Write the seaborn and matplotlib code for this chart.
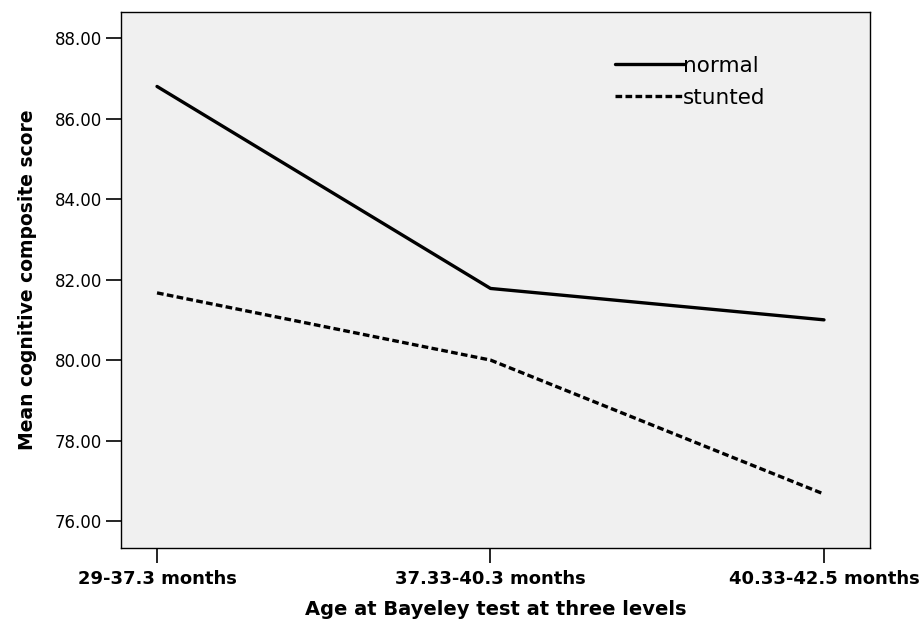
import matplotlib
matplotlib.use("Agg")
import matplotlib.pyplot as plt
import seaborn as sns
import pandas as pd

# Mean cognitive composite score by age group and growth status
age_levels = ["29-37.3 months", "37.33-40.3 months", "40.33-42.5 months"]
normal_scores = [86.80, 81.78, 81.00]
stunted_scores = [81.67, 80.00, 76.67]
y_ticks = [76, 78, 80, 82, 84, 86, 88]

df = pd.DataFrame({
    "age": age_levels * 2,
    "score": normal_scores + stunted_scores,
    "group": ["normal"] * 3 + ["stunted"] * 3,
})

sns.set_style("white")
plt.rcParams["font.family"] = ["DejaVu Sans"]
plt.rcParams["text.color"] = "black"
plt.rcParams["axes.labelcolor"] = "black"
plt.rcParams["xtick.color"] = "black"
plt.rcParams["ytick.color"] = "black"

fig = plt.figure(figsize=(9.21, 6.21), dpi=100)
ax = fig.add_axes([121 / 921, 1 - 548 / 621, (870 - 121) / 921, (548 - 12) / 621])
ax.set_facecolor("#F0F0F0")

sns.lineplot(data=df, x="age", y="score", style="group",
             hue="group", palette={"normal": "black", "stunted": "black"},
             dashes={"normal": "", "stunted": (2.0, 1.0)},
             linewidth=2.4, ax=ax, legend=False, sort=False)

ax.set_xlim(-0.108, 2.138)
ax.set_ylim(75.33, 88.65)
ax.set_yticks(y_ticks)
ax.set_yticklabels([f"{v:.2f}" for v in y_ticks], fontsize=12)
ax.set_xticks(range(len(age_levels)))
ax.set_xticklabels(age_levels, fontsize=13, fontweight="bold")

for s in ax.spines.values():
    s.set_color("black")
    s.set_linewidth(1.0)
ax.tick_params(axis="both", direction="out", length=10.5, width=1.2,
               left=True, bottom=True)
ax.tick_params(axis="y", pad=3)
ax.tick_params(axis="x", pad=5)

ax.set_xlabel("Age at Bayeley test at three levels", fontsize=14,
              fontweight="bold", labelpad=9)
ax.set_ylabel("Mean cognitive composite score", fontsize=13.5,
              fontweight="bold", labelpad=13)

# legend without frame, lines touching labels
lines = ax.get_lines()
ax.legend(lines[:2], ["normal", "stunted"], frameon=False, loc="upper left",
          bbox_to_anchor=(0.634, 0.954), handlelength=3.2, handletextpad=-0.05,
          fontsize=15.5, labelspacing=0.55)

fig.savefig("out.png", dpi=100)
